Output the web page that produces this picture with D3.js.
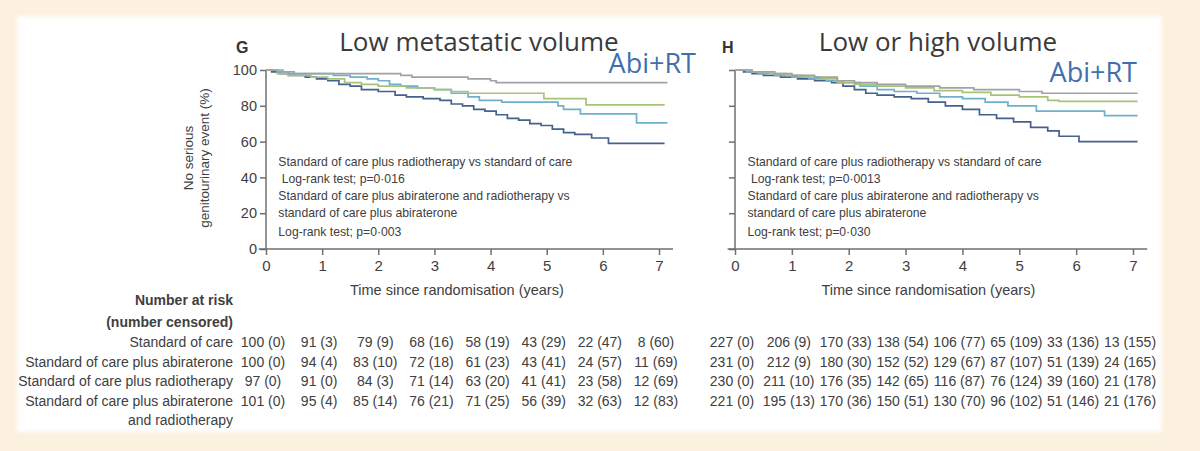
<!DOCTYPE html>
<html>
<head>
<meta charset="utf-8">
<script src="https://cdn.jsdelivr.net/npm/d3@7"></script>
<style>
  html, body { margin: 0; padding: 0; background: #fcf0de; }
  svg { display: block; }
  .narrow { font-family: 'Liberation Sans Narrow', 'Arial Narrow', 'Liberation Sans', sans-serif; }
  .tick text { font-family: 'Liberation Sans', Arial, sans-serif; }
</style>
</head>
<body>
<svg id="chart" width="1200" height="451"></svg>
<script>
// --- data ---
var years = [0, 1, 2, 3, 4, 5, 6, 7]
var pctTicks = [0, 20, 40, 60, 80, 100]

var armLabels = [
  ['Standard of care'],
  ['Standard of care plus abiraterone'],
  ['Standard of care plus radiotherapy'],
  ['Standard of care plus abiraterone', 'and radiotherapy']
]
var armColors = ['#46618c', '#6fb1cc', '#a8c27a', '#a2a2a6']

// step points [years, %] for each arm, low metastatic volume (G)
var lowSoc = [[0,100],[0.1,99],[0.25,98],[0.4,97],[0.7,96],[0.9,95],[1.1,94],[1.3,92],[1.5,91],[1.7,89],[2.0,88],[2.3,86],[2.5,85],[2.8,84],[3.1,83],[3.3,81],[3.5,80],[3.7,78],[3.9,77],[4.1,75],[4.3,73],[4.5,72],[4.7,70],[4.9,69],[5.1,67],[5.3,65],[5.5,64],[5.8,62],[6.1,59]]
var lowAbi = [[0,100],[0.3,99],[0.5,98],[1.2,97],[1.5,96],[1.8,95],[2.0,94],[2.2,92],[2.4,91],[2.7,90],[3.0,89],[3.3,87],[3.6,85],[3.8,83],[4.2,82],[5.2,80],[5.3,78],[5.6,75.5],[6.6,70.5]]
var lowRt = [[0,100],[0.2,98],[0.4,97],[0.8,96],[1.1,95],[1.4,93],[1.7,92],[2.0,91],[2.5,90],[3.0,89],[3.3,88],[3.6,87],[4.95,84],[5.7,80.5]]
var lowAbiRt = [[0,100],[0.2,99],[0.4,98],[2.4,97],[2.6,96],[3.6,95],[4.0,94],[4.1,93]]
var lowEnds = [7.1, 7.15, 7.1, 7.15]

// low or high volume (H)
var anySoc = [[0,100],[0.15,99],[0.3,98],[0.5,97],[0.8,96],[1.1,95],[1.4,94],[1.7,93],[1.9,91],[2.1,89],[2.3,87],[2.5,86],[2.8,85],[3.1,84],[3.4,82],[3.7,80],[4.0,78],[4.3,75],[4.6,73],[4.9,71],[5.2,68],[5.5,66],[5.7,63],[6.05,60]]
var anyAbi = [[0,100],[0.2,99],[0.4,98],[0.7,97],[1.0,96],[1.3,95],[1.6,94],[1.9,93],[2.2,91],[2.5,89],[2.8,88],[3.2,87],[3.6,85],[4.0,84],[4.4,82],[4.8,80],[5.3,77],[6.5,74.5]]
var anyRt = [[0,100],[0.3,99],[0.6,98],[0.9,97],[1.2,96],[1.5,95],[1.8,93],[2.1,92],[2.5,91],[3.0,90],[3.5,88.5],[4.0,87.5],[4.5,86],[5.0,85],[5.5,83],[5.7,82.5]]
var anyAbiRt = [[0,100],[0.3,99],[0.7,98],[1.0,97],[1.4,96],[1.8,94],[2.1,93],[2.5,92],[3.0,91],[3.6,90],[4.2,89],[5.0,88],[5.4,87]]
var anyEnds = [7.08, 7.08, 7.08, 7.08]

// number at risk and number censored at each year
var riskLow = [[100,91,79,68,58,43,22,8],[100,94,83,72,61,43,24,11],[97,91,84,71,63,41,23,12],[101,95,85,76,71,56,32,12]]
var censLow = [[0,3,9,16,19,29,47,60],[0,4,10,18,23,41,57,69],[0,0,3,14,20,41,58,69],[0,4,14,21,25,39,63,83]]
var riskAny = [[227,206,170,138,106,65,33,13],[231,212,180,152,129,87,51,24],[230,211,176,142,116,76,39,21],[221,195,170,150,130,96,51,21]]
var censAny = [[0,9,33,54,77,109,136,155],[0,9,30,52,67,107,139,165],[0,10,35,65,87,124,160,178],[0,13,36,51,70,102,146,176]]

var notesLow = ['Standard of care plus radiotherapy vs standard of care', ' Log-rank test; p=0·016', 'Standard of care plus abiraterone and radiotherapy vs', 'standard of care plus abiraterone', 'Log-rank test; p=0·003']
var notesAny = ['Standard of care plus radiotherapy vs standard of care', ' Log-rank test; p=0·0013', 'Standard of care plus abiraterone and radiotherapy vs', 'standard of care plus abiraterone', 'Log-rank test; p=0·030']

// --- drawing ---
var svg = d3.select('#chart')
var axisColor = '#6f6f6f'
var textColor = '#404040'

var defs = svg.append('defs')
var blur = defs.append('filter').attr('id', 'soft').attr('x', '-5%').attr('y', '-5%').attr('width', '110%').attr('height', '110%')
blur.append('feGaussianBlur').attr('stdDeviation', 2)

svg.append('rect').attr('x', 17).attr('y', 16).attr('width', 1145).attr('height', 416)
  .attr('fill', '#ffffff').attr('filter', 'url(#soft)')

function drawPanel(o) {
  var x = d3.scaleLinear().domain([0, 7]).range([o.left, o.right])
  var y = d3.scaleLinear().domain([0, 100]).range([249, 70])
  var g = svg.append('g')

  // x axis
  var gx = g.append('g').attr('transform', 'translate(0,' + y(0) + ')')
    .call(d3.axisBottom(x).tickValues(years).tickSize(6).tickPadding(5).tickFormat(d3.format('d')))
  gx.select('.domain').remove()
  gx.append('line').attr('x1', x(-0.13)).attr('x2', x(7.25)).attr('stroke', axisColor).attr('stroke-width', 1.5)
  gx.selectAll('.tick line').attr('stroke', axisColor).attr('stroke-width', 1.5)
  gx.selectAll('.tick text').attr('fill', textColor).style('font-size', '15px')

  // y axis
  var gy = g.append('g').attr('transform', 'translate(' + x(0) + ',0)')
    .call(d3.axisLeft(y).tickValues(pctTicks).tickSize(6).tickPadding(3)
      .tickFormat(o.yLabels ? d3.format('d') : ''))
  gy.select('.domain').attr('stroke', axisColor).attr('stroke-width', 1.5).attr('d', 'M0,' + y(0) + 'V' + y(100))
  gy.selectAll('.tick line').attr('stroke', axisColor).attr('stroke-width', 1.5)
  gy.selectAll('.tick text').attr('fill', textColor).style('font-size', '14.5px')

  // curves
  var line = d3.line().x(function(d) { return x(d[0]) }).y(function(d) { return y(d[1]) }).curve(d3.curveStepAfter)
  o.curves.forEach(function(c, i) {
    var pts = c.concat([[o.ends[i], c[c.length - 1][1]]])
    g.append('path').attr('d', line(pts)).attr('fill', 'none')
      .attr('stroke', armColors[i]).attr('stroke-width', 1.7)
  })

  // log-rank notes
  g.append('g').selectAll('text').data(o.notes).enter().append('text')
    .attr('class', 'narrow')
    .attr('x', x(0.22)).attr('y', function(d, i) { return [166, 183, 200, 217, 236][i] })
    .attr('fill', textColor).style('font-size', '12.2px').style('white-space', 'pre')
    .text(function(d) { return d })

  // titles
  g.append('text').attr('x', o.titleX).attr('y', 51).attr('text-anchor', 'middle')
    .attr('fill', '#3a3a3a').style('font-family', "'Open Sans', sans-serif").style('font-size', '26px')
    .text(o.title)
  g.append('text').attr('x', o.letterX).attr('y', 53).attr('fill', '#333')
    .style('font-family', "'Liberation Sans', sans-serif").style('font-weight', 'bold').style('font-size', '16px')
    .text(o.letter)
  g.append('text').attr('x', o.abiX).attr('y', o.abiY).attr('text-anchor', 'end')
    .attr('fill', '#3f6fae').style('font-family', "'Open Sans', sans-serif").style('font-size', '27px')
    .text('Abi+RT')

  // x label
  g.append('text').attr('class', 'narrow').attr('x', x(3.4)).attr('y', 295).attr('text-anchor', 'middle')
    .attr('fill', textColor).style('font-size', '14.5px').text('Time since randomisation (years)')

  // number at risk columns
  o.risk.forEach(function(row, r) {
    g.append('g').selectAll('text').data(row).enter().append('text')
      .attr('class', 'narrow')
      .attr('x', function(d, i) { return x(years[i]) - 3 })
      .attr('y', 347 + r * 19.5)
      .attr('text-anchor', 'middle').attr('fill', textColor).style('font-size', '14px')
      .text(function(d, i) { return d + ' (' + o.cens[r][i] + ')' })
  })
}

drawPanel({ left: 266, right: 659, curves: [lowSoc, lowAbi, lowRt, lowAbiRt], ends: lowEnds,
  notes: notesLow, title: 'Low metastatic volume', titleX: 479, letter: 'G', letterX: 236, abiX: 696, abiY: 73,
  yLabels: true, risk: riskLow, cens: censLow })
drawPanel({ left: 735, right: 1133, curves: [anySoc, anyAbi, anyRt, anyAbiRt], ends: anyEnds,
  notes: notesAny, title: 'Low or high volume', titleX: 938, letter: 'H', letterX: 722, abiX: 1137, abiY: 82,
  yLabels: false, risk: riskAny, cens: censAny })

// y axis title (left panel)
var yt = svg.append('text').attr('class', 'narrow').attr('transform', 'translate(193,158) rotate(-90)')
  .attr('text-anchor', 'middle').attr('fill', textColor).style('font-size', '13.5px')
yt.append('tspan').attr('x', 0).attr('dy', 0).text('No serious')
yt.append('tspan').attr('x', 0).attr('dy', 16).text('genitourinary event (%)')

// number at risk row labels
var head = svg.append('g').attr('class', 'narrow').attr('text-anchor', 'end').attr('fill', textColor)
head.append('text').attr('x', 233).attr('y', 305).style('font-size', '14px').style('font-weight', 'bold').text('Number at risk')
head.append('text').attr('x', 233).attr('y', 327).style('font-size', '14px').style('font-weight', 'bold').text('(number censored)')
armLabels.forEach(function(lines, r) {
  lines.forEach(function(t, k) {
    head.append('text').attr('x', 233).attr('y', 347 + (r + k) * 19.5).style('font-size', '14px').text(t)
  })
})
</script>
</body>
</html>
